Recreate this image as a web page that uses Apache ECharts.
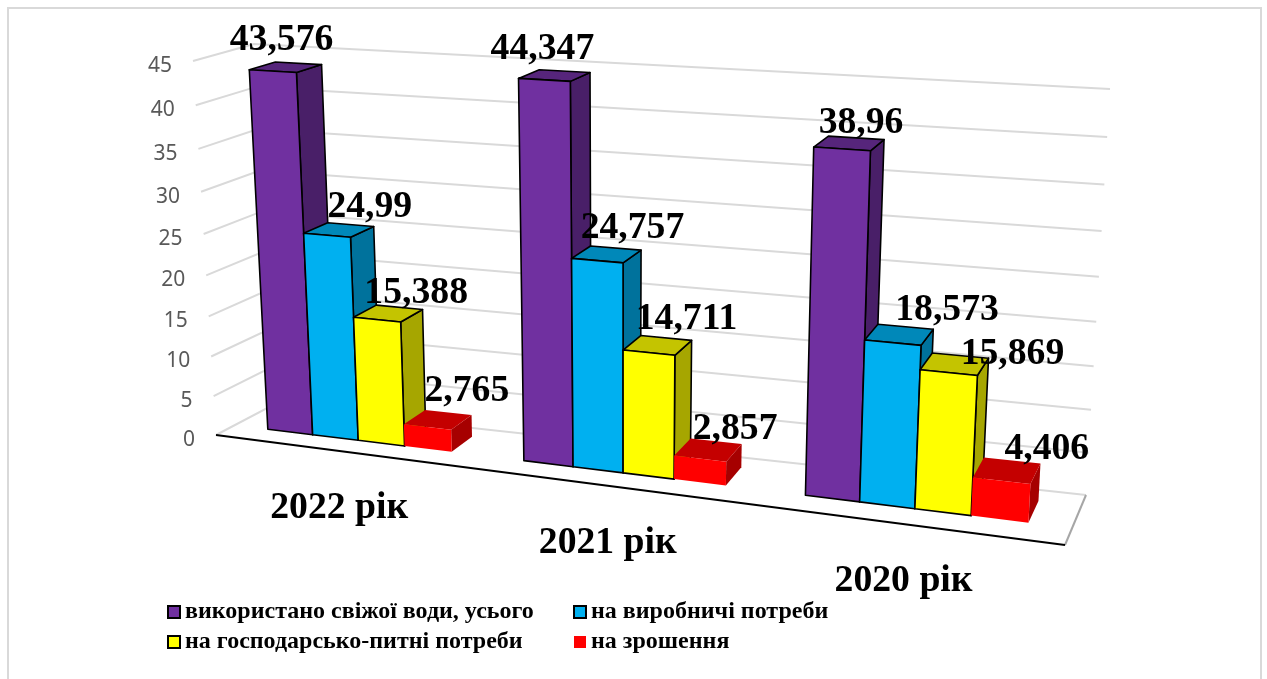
<!DOCTYPE html>
<html lang="uk">
<head>
<meta charset="utf-8">
<style>html,body{margin:0;padding:0;background:#fff}#chart{width:1267px;height:679px}</style>
<script src="https://cdn.jsdelivr.net/npm/echarts@6/dist/echarts.min.js"></script>
</head>
<body>
<div id="chart"></div>
<script>
// Fresh water use by purpose, million m3
const categories = ['2022 рік', '2021 рік', '2020 рік'];
const seriesNames = [
  'використано свіжої води, усього',
  'на виробничі потреби',
  'на господарсько-питні потреби',
  'на зрошення'
];
const totalUse = [43.576, 44.347, 38.96];
const industrialUse = [24.99, 24.757, 18.573];
const householdUse = [15.388, 14.711, 15.869];
const irrigationUse = [2.765, 2.857, 4.406];
const valueTicks = [0, 5, 10, 15, 20, 25, 30, 35, 40, 45];

const seriesValues = [totalUse, industrialUse, householdUse, irrigationUse];
const seriesColors = ['#7030A0', '#00B0F0', '#FFFF00', '#FF0000'];

// Box of the 3D scene on screen: [front/back][bottom/top][left/right]
const box = {
  fbl: [216, 435], fbr: [1065, 545], bbl: [271, 406], bbr: [1086, 495],
  ftl: [193, 61], ftr: [1089, 113], btl: [254, 44], btr: [1110, 89]
};
const xPersp = -0.135, yPersp = -0.07;   // foreshortening along width and height
const depthFront = 0.34, depthBack = 0.78;   // bar extent inside the box depth
const barUnits = 5.5;                     // 4 bars + 150% gap per category band

// Label shift from the middle of each bar's top face, per series then category
const labelShift = [
  [[-4, -27], [-12, -26], [12, -20]],
  [[31, -23], [26, -26], [48, -24]],
  [[28, -20], [29, -26], [58, -10]],
  [[29, -28], [27, -21], [40, -21]]
];

const lerp = (a, b, t) => [a[0] + (b[0] - a[0]) * t, a[1] + (b[1] - a[1]) * t];

// Maps width, height and depth fractions of the box to screen space
function project(u, v, z) {
  const uu = u * (1 + xPersp) / (1 + xPersp * u);
  const vv = v * (1 + yPersp) / (1 + yPersp * v);
  const bottom = lerp(lerp(box.fbl, box.fbr, uu), lerp(box.bbl, box.bbr, uu), z);
  const top = lerp(lerp(box.ftl, box.ftr, uu), lerp(box.btl, box.btr, uu), z);
  return lerp(bottom, top, vv);
}

// Turns grid coordinates from the axes into box fractions
function toBox(params, api, cat, value) {
  const cs = params.coordSys;
  const p = api.coord([cat, value]);
  return [(p[0] - cs.x) / cs.width, (cs.y + cs.height - p[1]) / cs.height];
}

function shade(hex, k) {
  const n = parseInt(hex.slice(1), 16);
  const c = [n >> 16, (n >> 8) & 255, n & 255].map(x => Math.round(x * k));
  return 'rgb(' + c.join(',') + ')';
}

function barGeometry(params, api, cat, value, s) {
  const cs = params.coordSys;
  const [uc, v] = toBox(params, api, cat, value);
  const unit = api.size([1, 0])[0] / cs.width / barUnits;
  return {v, u0: uc + (s - 2) * unit, u1: uc + (s - 1) * unit};
}

function renderBar(s, params, api) {
  const {v, u0, u1} = barGeometry(params, api, api.value(0), api.value(1), s);
  const stroke = s === 3 ? null : '#000';
  const lw = s === 3 ? 0 : 1.6;
  const poly = (pts, fill) => ({
    type: 'polygon',
    shape: {points: pts},
    style: {fill, stroke, lineWidth: lw, lineJoin: 'round'}
  });
  const base = seriesColors[s];
  return {
    type: 'group',
    children: [
      poly([project(u1, 0, depthFront), project(u1, 0, depthBack), project(u1, v, depthBack), project(u1, v, depthFront)], shade(base, 0.65)),
      poly([project(u0, v, depthFront), project(u1, v, depthFront), project(u1, v, depthBack), project(u0, v, depthBack)], shade(base, 0.77)),
      poly([project(u0, 0, depthFront), project(u1, 0, depthFront), project(u1, v, depthFront), project(u0, v, depthFront)], base)
    ]
  };
}

function renderWall(params, api) {
  const tick = api.value(0);
  const v = toBox(params, api, 0, tick)[1];
  const front = project(0, v, 0), corner = project(0, v, 1), end = project(1, v, 1);
  const children = [
    {type: 'polyline', shape: {points: [front, corner, end]},
     style: {fill: null, stroke: '#d9d9d9', lineWidth: 2}},
    {type: 'text', style: {text: String(tick), x: front[0] - 21, y: front[1] + 5,
      align: 'right', verticalAlign: 'middle', fill: '#595959', font: '21px "Noto Sans"'}}
  ];
  if (tick === 0) {
    children.push(
      {type: 'polyline', shape: {points: [project(1, 0, 1), project(1, 0, 0)]},
       style: {fill: null, stroke: '#a6a6a6', lineWidth: 2}},
      {type: 'polyline', shape: {points: [project(0, 0, 0), project(1, 0, 0)]},
       style: {fill: null, stroke: '#000', lineWidth: 2}}
    );
  }
  return {type: 'group', children};
}

function renderBarLabel(params, api) {
  const cat = api.value(0), value = api.value(1), s = api.value(2);
  const {v, u0, u1} = barGeometry(params, api, cat, value, s);
  const anchor = project((u0 + u1) / 2, v, (depthFront + depthBack) / 2);
  const shift = labelShift[s][cat];
  return {type: 'text', style: {
    text: String(value).replace('.', ','),
    x: anchor[0] + shift[0], y: anchor[1] + shift[1],
    align: 'center', verticalAlign: 'middle', fill: '#000',
    font: 'bold 37.7px "Liberation Serif"'
  }};
}

function renderCategory(params, api) {
  const cat = api.value(0);
  const u = toBox(params, api, cat, 0)[0];
  const p = project(u, 0, 0);
  return {type: 'text', style: {
    text: categories[cat], x: p[0] - 2, y: p[1] + 57,
    align: 'center', verticalAlign: 'middle', fill: '#000',
    font: 'bold 37.7px "Liberation Serif"'
  }};
}

const barSeries = seriesNames.map((name, s) => ({
  name, type: 'custom', z: 3, silent: true, animation: false,
  coordinateSystem: 'cartesian2d',
  itemStyle: {color: seriesColors[s], borderColor: s === 3 ? 'transparent' : '#000', borderWidth: s === 3 ? 0 : 2.5},
  encode: {x: 0, y: 1},
  renderItem: (params, api) => renderBar(s, params, api),
  data: seriesValues[s].map((val, c) => [c, val])
}));

const labelRows = [];
seriesValues.forEach((vals, s) => vals.forEach((val, c) => labelRows.push([c, val, s])));

const legendText = {fontFamily: 'Liberation Serif', fontWeight: 'bold', fontSize: 24, color: '#000'};

const chart = echarts.init(document.getElementById('chart'), null, {renderer: 'canvas'});
chart.setOption({
  animation: false,
  backgroundColor: '#fff',
  grid: {left: 0, right: 0, top: 0, bottom: 0},
  xAxis: {type: 'category', data: categories, show: false},
  yAxis: {type: 'value', min: 0, max: 45, interval: 5, show: false},
  legend: [
    {left: 162, top: 595, orient: 'vertical', icon: 'rect', itemWidth: 12, itemHeight: 12,
     itemGap: 6, textStyle: legendText, data: [seriesNames[0], seriesNames[2]], selectedMode: false},
    {left: 568, top: 595, orient: 'vertical', icon: 'rect', itemWidth: 12, itemHeight: 12,
     itemGap: 6, textStyle: legendText, data: [seriesNames[1], seriesNames[3]], selectedMode: false}
  ],
  graphic: [{
    type: 'rect', silent: true,
    shape: {x: 8, y: 8, width: 1253, height: 700},
    style: {fill: 'none', stroke: '#d9d9d9', lineWidth: 2}
  }],
  series: [
    {type: 'custom', z: 1, silent: true, animation: false, coordinateSystem: 'cartesian2d',
     encode: {y: 0}, renderItem: renderWall, data: valueTicks.map(t => [t])},
    ...barSeries,
    {type: 'custom', z: 5, silent: true, animation: false, coordinateSystem: 'cartesian2d',
     renderItem: renderBarLabel, data: labelRows},
    {type: 'custom', z: 5, silent: true, animation: false, coordinateSystem: 'cartesian2d',
     renderItem: renderCategory, data: categories.map((c, i) => [i])}
  ]
});
</script>
</body>
</html>
